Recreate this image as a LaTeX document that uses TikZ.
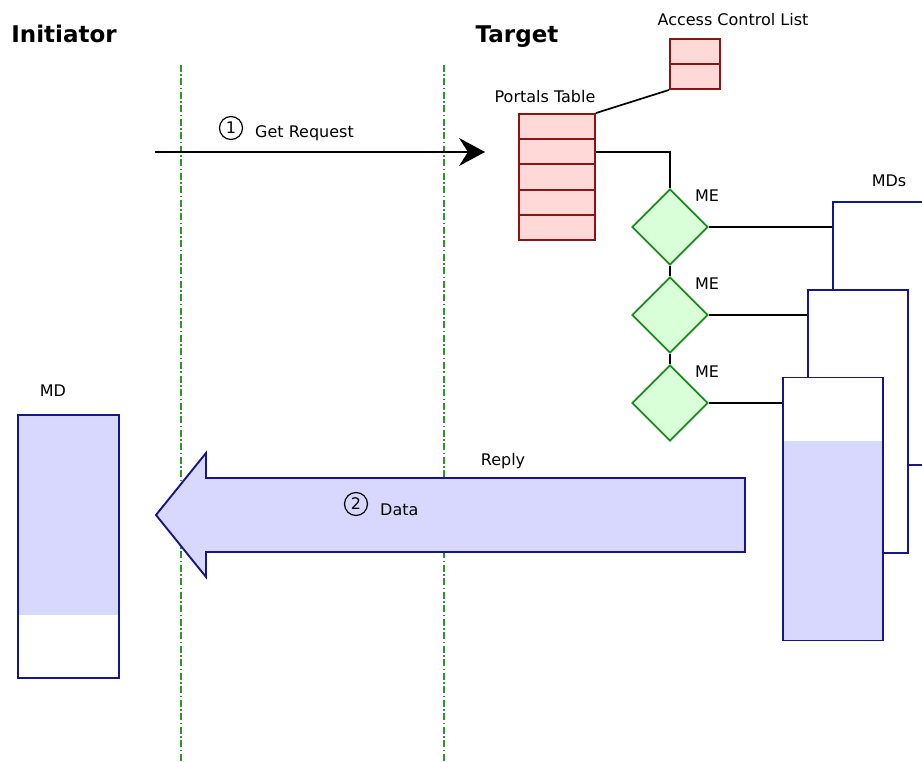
\documentclass[tikz,border=0pt]{standalone}
\usepackage{fontspec}
\setmainfont{DejaVu Sans}
\usepackage{tikz}
\usetikzlibrary{positioning,arrows.meta,shapes.geometric,calc}
\definecolor{ptRed}{HTML}{8B1414}
\definecolor{ptRedLt}{HTML}{FFD8D8}
\definecolor{meGreen}{HTML}{1C8A1C}
\definecolor{meGreenLt}{HTML}{D8FFD8}
\definecolor{mdBlue}{HTML}{16168C}
\definecolor{mdBlueLt}{HTML}{D8D8FF}
\definecolor{lifeGreen}{HTML}{2A982A}
\tikzset{
  lbl/.style={font=\fontsize{16}{19}\selectfont, inner sep=0pt},
  headline/.style={font=\fontsize{23}{27}\selectfont\bfseries, inner sep=0pt},
  ptrow/.style={draw=ptRed, fill=ptRedLt, line width=1.9pt, minimum width=76pt,
                minimum height=25.2pt, inner sep=0pt},
  aclrow/.style={ptrow, minimum width=50pt, minimum height=25pt},
  mematch/.style={diamond, draw=meGreen, fill=meGreenLt, line width=1.9pt,
                  minimum width=76pt, minimum height=76pt, inner sep=0pt},
  mdbox/.style={draw=mdBlue, fill=white, line width=1.9pt, minimum width=100pt,
                minimum height=263pt, inner sep=0pt},
  mdlow/.style={path picture={\fill[mdBlueLt]
      ($(path picture bounding box.north west)+(0,#1)$)
      rectangle (path picture bounding box.south east);},
    postaction={draw=mdBlue, fill=none, line width=1.9pt}},
  mdhigh/.style={path picture={\fill[mdBlueLt]
      (path picture bounding box.north west)
      rectangle ($(path picture bounding box.south east)+(0,-#1)$);},
    postaction={draw=mdBlue, fill=none, line width=1.9pt}},
  wire/.style={draw=black, line width=1.7pt},
  lifeline/.style={draw=lifeGreen, line width=1.3pt,
                   dash pattern=on 7pt off 2.5pt on 1.5pt off 2.5pt},
  msgarrow/.style={-{Stealth[length=26pt, width=28pt, inset=9pt]}, line width=2.2pt},
  bigarrow/.style={draw=mdBlue, fill=mdBlueLt, line width=1.9pt, line join=miter},
  stepnum/.style={circle, draw, line width=1.2pt, minimum size=23pt, inner sep=0pt,
                  font=\fontsize{16}{19}\selectfont},
}

\begin{document}
\begin{tikzpicture}[x=1pt, y=-1pt]
\useasboundingbox (0,0) rectangle (922,762);

%% Lifelines
\coordinate (initTop) at (181,65);
\coordinate (initBot) at (181,762);
\coordinate (tgtTop) at (444,65);
\coordinate (tgtBot) at (444,762);
\draw[lifeline] (initTop) -- (initBot);
\draw[lifeline] (tgtTop) -- (tgtBot);
\node[headline] (init) at (64,34) {Initiator};
\node[headline] (tgt) at (517,37) {Target};

%% Portals table and access control list
\foreach \i in {1,...,5}
  \node[ptrow] (pt\i) at (557,{101.4+25.2*\i}) {};
\node[lbl] (ptlbl) at (545,97) {Portals Table};
\foreach \i in {1,2}
  \node[aclrow] (acl\i) at (695,{26.5+25*\i}) {};
\node[lbl] (acllbl) at (733,20) {Access Control List};
\draw[wire] (pt1.north east) -- (acl2.south west);

%% Match list
\foreach \i/\y in {1/227,2/315,3/403} {
  \node[mematch] (me\i) at (670,\y) {};
  \node[lbl] (melbl\i) at (707,\y-31) {ME};
}
\draw[wire] (pt2.east) -| (me1.north);
\draw[wire] (me1.south) -- (me2.north);
\draw[wire] (me2.south) -- (me3.north);

%% Memory descriptors
\node[mdbox] (mdA) at (883,333.5) {};
\node[mdbox] (mdB) at (858,421.5) {};
\node[mdbox, mdlow=63] (mdC) at (833,509) {};
\node[lbl] (mdslbl) at (889,181) {MDs};
\draw[wire] (me1.east) -- (me1.east -| mdA.west);
\draw[wire] (me2.east) -- (me2.east -| mdB.west);
\draw[wire] (me3.east) -- (me3.east -| mdC.west);

\node[mdbox, mdhigh=63, minimum width=101pt] (mdI) at (68.5,546.5) {};
\node[lbl] (mdlbl) at (53,391) {MD};

%% Get request
\coordinate (reqFrom) at (155,152);
\coordinate (reqTo) at (485,152);
\draw[msgarrow] (reqFrom) -- (reqTo);
\node[stepnum] (num1) at (231,128) {1};
\node[lbl, anchor=west] (getlbl) at (255,133) {Get Request};

%% Reply
\draw[bigarrow] (745,478) -- (206,478) -- (206,453) -- (156,515)
  -- (206,577) -- (206,552) -- (745,552) -- cycle;
\node[lbl] (replylbl) at (503,461) {Reply};
\node[stepnum] (num2) at (356,504) {2};
\node[lbl, anchor=west] (datalbl) at (380,510) {Data};
\end{tikzpicture}
\end{document}
